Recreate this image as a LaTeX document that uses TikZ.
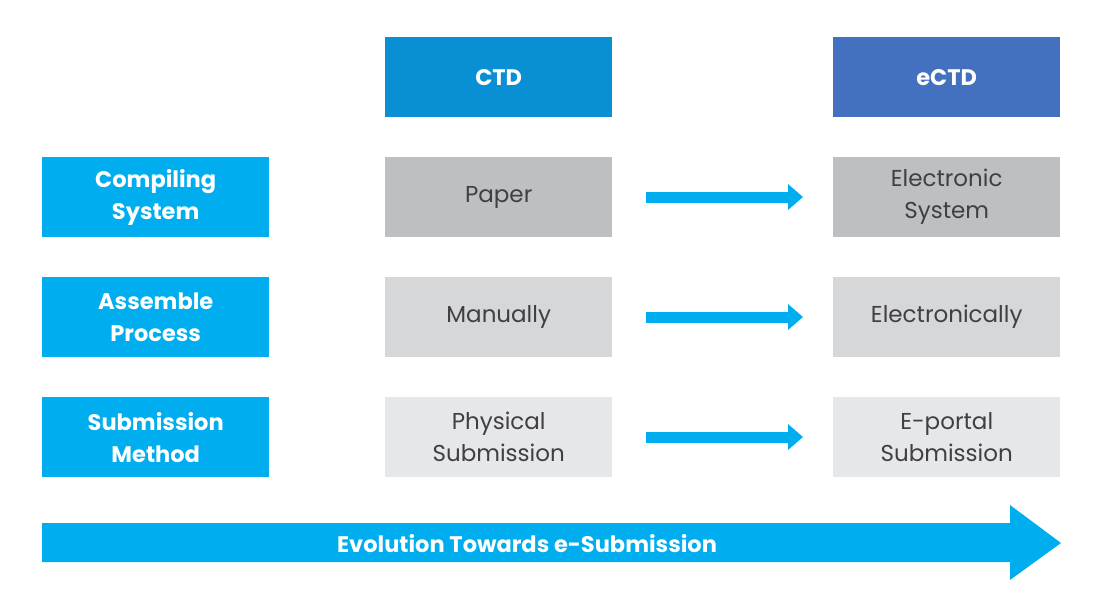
\documentclass[tikz,border=0pt]{standalone}
\usepackage{fontspec}
\usetikzlibrary{arrows.meta}
\setmainfont{Poppins}
\definecolor{ctdblue}{RGB}{8,143,212}
\definecolor{ectdblue}{RGB}{68,112,192}
\definecolor{cyanb}{RGB}{0,174,239}
\definecolor{gray1}{RGB}{190,191,193}
\definecolor{gray2}{RGB}{214,215,217}
\definecolor{gray3}{RGB}{230,231,232}
\definecolor{txtgray}{RGB}{64,64,66}
\begin{document}
\begin{tikzpicture}[x=1pt,y=-1pt,
  box/.style={minimum width=227pt,minimum height=80pt,inner sep=0pt,align=center,anchor=north west},
  head/.style={box,text=white,font=\bfseries\fontsize{22.5}{26}\selectfont},
  label/.style={box,fill=cyanb,text=white,font=\bfseries\fontsize{22.5}{32}\selectfont},
  cell/.style={box,text=txtgray,font=\fontsize{23}{32}\selectfont},
  flow/.style={cyanb,line width=11pt,-{Triangle[length=15pt,width=25pt]}}
]
\useasboundingbox (0,0) rectangle (1118,603);
\node[head,fill=ctdblue] (ctd) at (385,37) {CTD};
\node[head,fill=ectdblue] (ectd) at (833,37) {eCTD};
\node[label] (l1) at (42,157) {Compiling\\System};
\node[label] (l2) at (42,277) {Assemble\\Process};
\node[label] (l3) at (42,397) {Submission\\Method};
\node[cell,fill=gray1] (a1) at (385,157) {Paper};
\node[cell,fill=gray2] (a2) at (385,277) {Manually};
\node[cell,fill=gray3] (a3) at (385,397) {Physical\\Submission};
\node[cell,fill=gray1] (b1) at (833,157) {Electronic\\System};
\node[cell,fill=gray2] (b2) at (833,277) {Electronically};
\node[cell,fill=gray3] (b3) at (833,397) {E-portal\\Submission};
\coordinate (s1) at (646,197); \coordinate (e1) at (803,197);
\coordinate (s2) at (646,317); \coordinate (e2) at (803,317);
\coordinate (s3) at (646,437); \coordinate (e3) at (803,437);
\draw[flow] (s1) -- (e1);
\draw[flow] (s2) -- (e2);
\draw[flow] (s3) -- (e3);
\fill[cyanb] (42,523) -- (1010,523) -- (1010,505) -- (1061,543) -- (1010,580) -- (1010,562) -- (42,562) -- cycle;
\node[text=white,font=\bfseries\fontsize{22.5}{26}\selectfont] (evo) at (527,544) {Evolution Towards e-Submission};
\end{tikzpicture}
\end{document}
